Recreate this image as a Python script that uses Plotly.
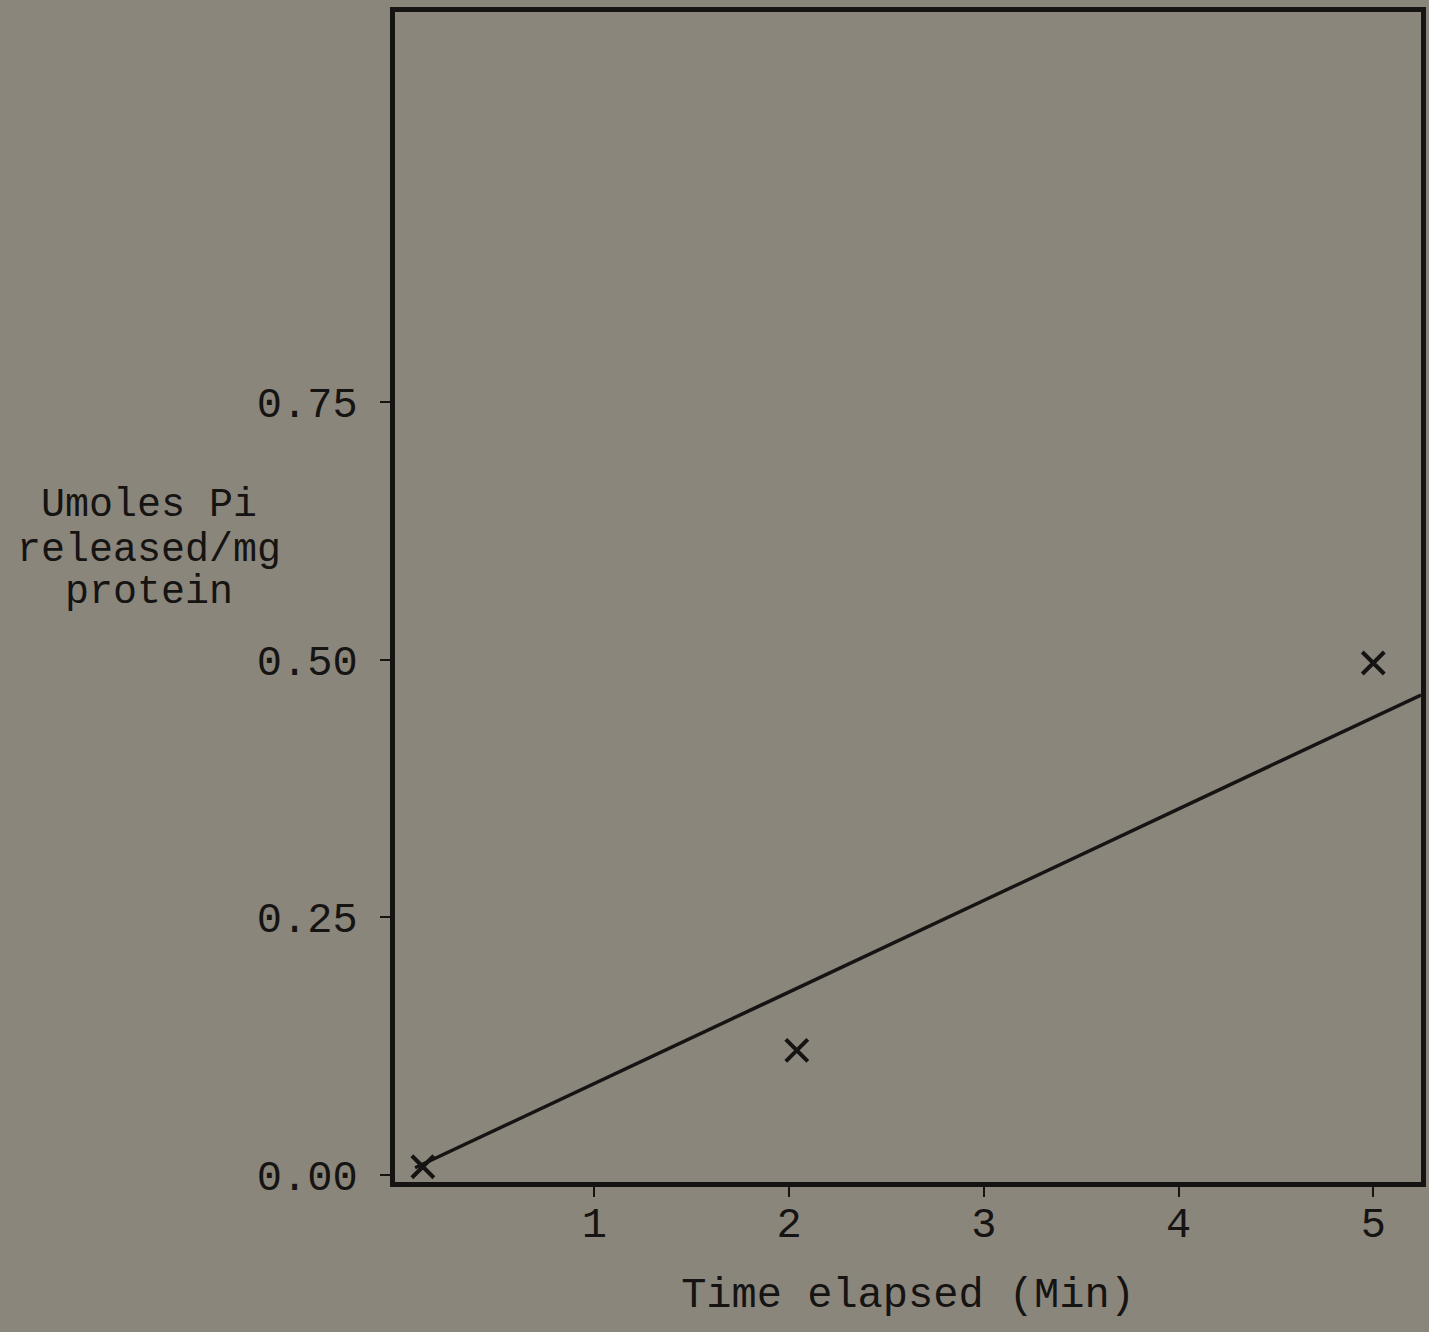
import plotly.graph_objects as go

# Data
time_min = [0.12, 2.04, 5.0]
pi_released = [0.008, 0.121, 0.497]

fit_x = [0.08, 5.245]
fit_y = [0.007, 0.466]

x_ticks = [1, 2, 3, 4, 5]
x_labels = ["1", "2", "3", "4", "5"]
y_ticks = [0.0, 0.25, 0.5, 0.75]
y_labels = ["0.00", "0.25", "0.50", "0.75"]
y_title_lines = ["Umoles Pi", "released/mg", "protein"]
y_title_pos = [0.650, 0.606, 0.565]

BG = "#8b867c"
INK = "#151413"
FONT = "Liberation Mono, Courier New, monospace"

fig = go.Figure()
fig.add_trace(go.Scatter(x=fit_x, y=fit_y, mode="lines",
                         line=dict(color=INK, width=3.5), showlegend=False))
fig.add_trace(go.Scatter(x=time_min, y=pi_released, mode="markers",
                         marker=dict(symbol="x-thin", size=22,
                                     line=dict(color=INK, width=4)),
                         showlegend=False))

for txt, yy in zip(y_title_lines, y_title_pos):
    fig.add_annotation(text=txt, x=-0.24, y=yy, xref="paper", yref="y",
                       showarrow=False, xanchor="center", yanchor="middle",
                       font=dict(family=FONT, size=40, color=INK))

fig.update_layout(
    width=1429, height=1332,
    margin=dict(l=395, r=3, t=12, b=150),
    paper_bgcolor=BG, plot_bgcolor=BG,
    font=dict(family=FONT, size=42, color=INK),
    xaxis=dict(range=[-0.023, 5.245], tickvals=x_ticks, ticktext=x_labels,
               showgrid=False, zeroline=False, showline=True, mirror=True,
               linecolor=INK, linewidth=5, ticks="outside", ticklen=10,
               tickwidth=2, tickcolor=INK, ticklabelstandoff=-10,
               title=dict(text="Time elapsed (Min)", standoff=30,
                          font=dict(family=FONT, size=42, color=INK))),
    yaxis=dict(range=[-0.0068, 1.129], tickvals=y_ticks, ticktext=y_labels,
               showgrid=False, zeroline=False, showline=True, mirror=True,
               linecolor=INK, linewidth=5, ticks="outside", ticklen=10,
               tickwidth=2, tickcolor=INK, ticklabelstandoff=14),
)

fig.write_html(
    "out.html",
    config={"displayModeBar": False},
    post_script="document.body.style.margin='0';"
                "document.body.style.background='" + BG + "';"
                "document.body.style.overflow='hidden';",
)
